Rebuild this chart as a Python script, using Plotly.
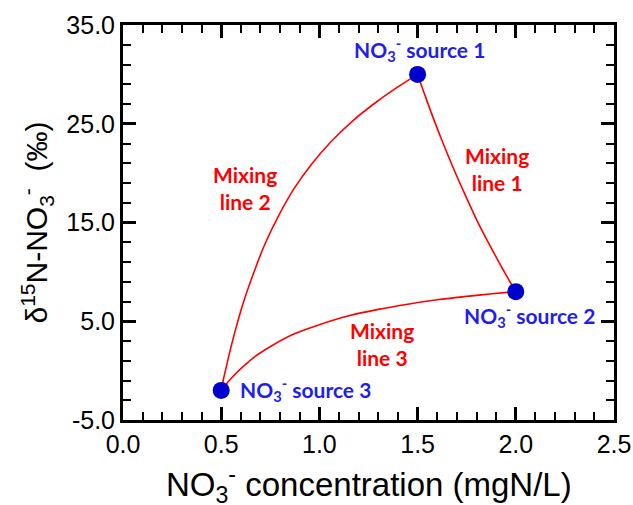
import plotly.graph_objects as go

# Source end-members (NO3- concentration mgN/L, d15N permil)
source_names = ["NO<sub>3</sub><sup>-</sup> source 1", "NO<sub>3</sub><sup>-</sup> source 2", "NO<sub>3</sub><sup>-</sup> source 3"]
source_x = [1.5, 2.0, 0.5]
source_y = [30.0, 8.0, -2.0]

# Mixing curves
mix1_x = [1.5, 1.53, 1.57, 1.62, 1.68, 1.74, 1.80, 1.87, 1.94, 2.0]
mix1_y = [30.0, 28.3, 26.1, 23.5, 20.6, 17.9, 15.3, 12.6, 10.05, 8.0]

mix2_x = [0.5, 0.51, 0.525, 0.545, 0.575, 0.613, 0.66, 0.72, 0.79, 0.87, 0.96, 1.06, 1.17, 1.28, 1.39, 1.5]
mix2_y = [-2.0, -1.0, 0.3, 2.0, 4.3, 6.9, 9.6, 12.7, 15.6, 18.4, 20.9, 23.2, 25.3, 27.05, 28.6, 30.0]

mix3_x = [0.5, 0.52, 0.55, 0.60, 0.67, 0.76, 0.87, 1.0, 1.15, 1.30, 1.45, 1.60, 1.75, 1.88, 2.0]
mix3_y = [-2.0, -1.5, -0.8, 0.2, 1.4, 2.55, 3.7, 4.65, 5.55, 6.2, 6.73, 7.17, 7.52, 7.78, 8.0]

# Tick labels
x_ticks = [0.0, 0.5, 1.0, 1.5, 2.0, 2.5]
x_ticktext = ["0.0", "0.5", "1.0", "1.5", "2.0", "2.5"]
y_ticks = [-5, 5, 15, 25, 35]
y_ticktext = ["-5.0", "5.0", "15.0", "25.0", "35.0"]

x_title = "NO<sub>3</sub><sup>-</sup> concentration (mgN/L)"
y_title = "δ<sup>15</sup>N-NO<sub>3</sub><sup>-</sup>  (‰)"

red = "#FF0000"
blue_mark = "#0000CC"
blue_text = "#1E1EF0"

fig = go.Figure()
for xs, ys in [(mix1_x, mix1_y), (mix2_x, mix2_y), (mix3_x, mix3_y)]:
    fig.add_trace(go.Scatter(x=xs, y=ys, mode="lines",
                             line=dict(color=red, width=1.6, shape="spline", smoothing=0.8),
                             showlegend=False, hoverinfo="skip"))
fig.add_trace(go.Scatter(x=source_x, y=source_y, mode="markers",
                         marker=dict(color=blue_mark, size=17, line=dict(width=0)),
                         showlegend=False))

lab_font = dict(family="Lato, 'Open Sans', sans-serif", size=21, color=blue_text)
mix_font = dict(family="Lato, 'Open Sans', sans-serif", size=21, color=red)

annotations = [
    dict(x=1.51, y=32.5, text="<b>" + source_names[0] + "</b>", xanchor="center", yanchor="middle", font=lab_font),
    dict(x=2.07, y=5.6, text="<b>" + source_names[1] + "</b>", xanchor="center", yanchor="middle", font=lab_font),
    dict(x=0.586, y=-1.9, text="<b>" + source_names[2] + "</b>", xanchor="left", yanchor="middle", font=lab_font),
    dict(x=1.905, y=20.4, text="<b>Mixing<br>line 1</b>", xanchor="center", yanchor="middle", font=mix_font),
    dict(x=0.621, y=18.5, text="<b>Mixing<br>line 2</b>", xanchor="center", yanchor="middle", font=mix_font),
    dict(x=1.318, y=2.7, text="<b>Mixing<br>line 3</b>", xanchor="center", yanchor="middle", font=mix_font),
]
for a in annotations:
    a.update(xref="x", yref="y", showarrow=False)

# x-axis title as a paper annotation for exact placement
annotations.append(dict(x=0.5, y=0, xref="paper", yref="paper", xanchor="center", yanchor="top",
                        yshift=-39, showarrow=False, text=x_title,
                        font=dict(family="Liberation Sans, Arial, sans-serif", size=33, color="black")))

axis_font = dict(family="Liberation Sans, Arial, sans-serif", size=25, color="black")

fig.update_layout(
    width=633, height=505,
    margin=dict(l=123, r=19, t=25, b=85, autoexpand=False),
    paper_bgcolor="white", plot_bgcolor="white",
    annotations=annotations,
    xaxis=dict(
        range=[0, 2.5], tickmode="array", tickvals=x_ticks, ticktext=x_ticktext,
        ticks="inside", ticklen=13, tickwidth=2.5, tickcolor="black",
        showline=True, linewidth=3, linecolor="black", mirror="ticks",
        showgrid=False, zeroline=False, automargin=False,
        tickfont=axis_font,
        minor=dict(dtick=0.1, tick0=0, ticks="inside", ticklen=8, tickwidth=1.5, tickcolor="black", showgrid=False),
    ),
    yaxis=dict(
        range=[-5, 35], tickmode="array", tickvals=y_ticks, ticktext=y_ticktext,
        ticks="inside", ticklen=13, tickwidth=2.5, tickcolor="black",
        showline=True, linewidth=3, linecolor="black", mirror="ticks",
        showgrid=False, zeroline=False, automargin=False,
        tickfont=axis_font,
        minor=dict(dtick=2, tick0=-5, ticks="inside", ticklen=8, tickwidth=1.5, tickcolor="black", showgrid=False),
        title=dict(text=y_title,
                   font=dict(family="Liberation Sans, Arial, sans-serif", size=30, color="black"),
                   standoff=10),
    ),
)

fig.write_html("out.html")
